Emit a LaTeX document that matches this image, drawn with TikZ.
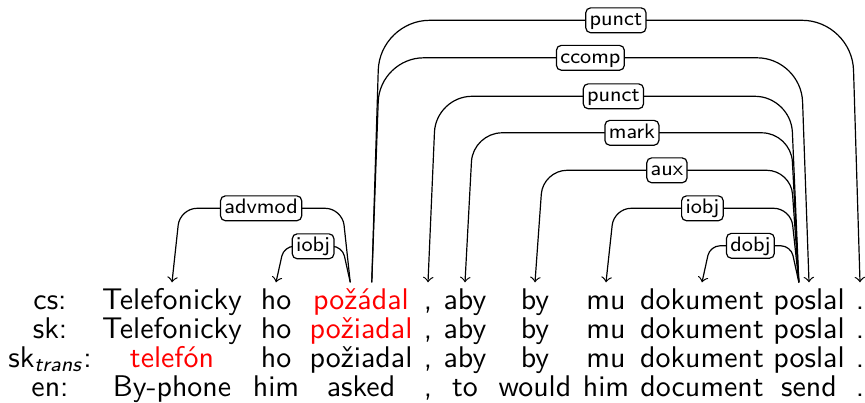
\documentclass[tikz,border=0pt]{standalone}
\usepackage{fontspec}
\usetikzlibrary{calc}
\begin{document}
\begin{tikzpicture}[x=0.3344pt,y=-0.3344pt,
  word/.style={anchor=base,inner sep=0pt,text height=7pt,font=\sffamily},
  hl/.style={text=red},
  dep/.style={draw=black,line width=0.4pt,->},
  lab/.style={draw=black,fill=white,line width=0.4pt,rounded corners=1.6pt,inner xsep=1.3pt,inner ysep=1pt,text height=4.9pt,text depth=1.4pt,font=\scriptsize\sffamily}]
\useasboundingbox (0,0) rectangle (865,402);
% row cs
\node[word] (c0) at (50,309.5) {cs:};
\node[word] (c1) at (172,309.5) {Telefonicky};
\node[word] (c2) at (276,309.5) {ho};
\node[word,hl] (c3) at (361,309.5) {požádal};
\node[word] (c4) at (428,309.5) {,};
\node[word] (c5) at (465,309.5) {aby};
\node[word] (c6) at (535,309.5) {by};
\node[word] (c7) at (606,309.5) {mu};
\node[word] (c8) at (702,309.5) {dokument};
\node[word] (c9) at (809,309.5) {poslal};
\node[word] (c10) at (860,309.5) {.};
% row sk
\node[word] (s0) at (50,338.3) {sk:};
\node[word] (s1) at (172,338.3) {Telefonicky};
\node[word] (s2) at (276,338.3) {ho};
\node[word,hl] (s3) at (361,338.3) {požiadal};
\node[word] (s4) at (428,338.3) {,};
\node[word] (s5) at (465,338.3) {aby};
\node[word] (s6) at (535,338.3) {by};
\node[word] (s7) at (606,338.3) {mu};
\node[word] (s8) at (702,338.3) {dokument};
\node[word] (s9) at (809,338.3) {poslal};
\node[word] (s10) at (860,338.3) {.};
% row sk trans
\node[word] (t0) at (50,367.2) {sk\textsubscript{\textit{trans}}:};
\node[word,hl] (tw1) at (172,367.2) {telefón};
\node[word] (tw2) at (276,367.2) {ho};
\node[word] (tw3) at (361,367.2) {požiadal};
\node[word] (tw4) at (428,367.2) {,};
\node[word] (tw5) at (465,367.2) {aby};
\node[word] (tw6) at (535,367.2) {by};
\node[word] (tw7) at (606,367.2) {mu};
\node[word] (tw8) at (702,367.2) {dokument};
\node[word] (tw9) at (809,367.2) {poslal};
\node[word] (tw10) at (860,367.2) {.};
% row en
\node[word] (e0) at (50,396) {en:};
\node[word] (e1) at (172,396) {By-phone};
\node[word] (e2) at (276,396) {him};
\node[word] (e3) at (361,396) {asked};
\node[word] (e4) at (428,396) {,};
\node[word] (e5) at (465,396) {to};
\node[word] (e6) at (535,396) {would};
\node[word] (e7) at (606,396) {him};
\node[word] (e8) at (702,396) {document};
\node[word] (e9) at (809,396) {send};
\node[word] (e10) at (860,396) {.};
% edge anchors
\coordinate (hL) at ([xshift=-3.6pt,yshift=1.9pt]c3.north);
\coordinate (hR) at ([xshift=3.6pt,yshift=1.9pt]c3.north);
\coordinate (gL) at ([xshift=-3.4pt,yshift=1.9pt]c9.north);
\coordinate (a1) at ([yshift=1.9pt]c1.north);
\coordinate (a2) at ([yshift=1.9pt]c2.north);
\coordinate (a4) at ([yshift=1.9pt]c4.north);
\coordinate (a5) at ([yshift=1.9pt]c5.north);
\coordinate (a6) at ([yshift=1.9pt]c6.north);
\coordinate (a7) at ([yshift=1.9pt]c7.north);
\coordinate (a8) at ([yshift=1.9pt]c8.north);
\coordinate (a9) at ([yshift=1.9pt]c9.north);
\coordinate (a10) at ([yshift=1.9pt]c10.north);
% edges from požádal
\draw[dep,rounded corners=5.7pt] (hL) -- ++(-8,-74) -- node[lab]{advmod} ($(a1)+(8,-74)$) -- (a1);
\draw[dep,rounded corners=3.3pt] (hL) -- ++(-8,-36) -- node[lab]{iobj} ($(a2)+(8,-36)$) -- (a2);
\draw[dep,rounded corners=14.7pt] (hR) -- ++(8,-224.5) -- node[lab]{ccomp} ($(a9)+(-8,-224.5)$) -- (a9);
\draw[dep,rounded corners=16.7pt] (hR) -- ++(8,-262) -- node[lab]{punct} ($(a10)+(-8,-262)$) -- (a10);
% edges from poslal
\draw[dep,rounded corners=12pt] (gL) -- ++(-8,-186) -- node[lab]{punct} ($(a4)+(8,-186)$) -- (a4);
\draw[dep,rounded corners=9.7pt] (gL) -- ++(-8,-149.5) -- node[lab]{mark} ($(a5)+(8,-149.5)$) -- (a5);
\draw[dep,rounded corners=8pt] (gL) -- ++(-8,-112) -- node[lab]{aux} ($(a6)+(8,-112)$) -- (a6);
\draw[dep,rounded corners=5.7pt] (gL) -- ++(-8,-74) -- node[lab]{iobj} ($(a7)+(8,-74)$) -- (a7);
\draw[dep,rounded corners=3.3pt] (gL) -- ++(-8,-36.5) -- node[lab]{dobj} ($(a8)+(8,-36.5)$) -- (a8);
\end{tikzpicture}
\end{document}
